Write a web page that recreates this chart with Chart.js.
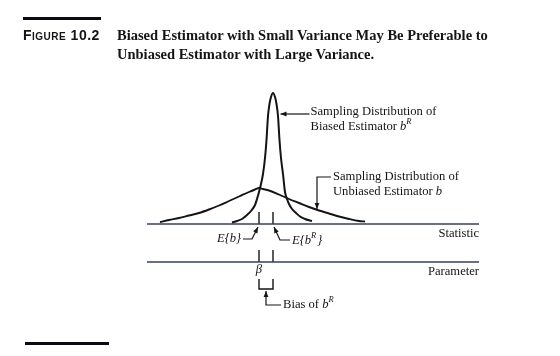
<!DOCTYPE html>
<html><head><meta charset="utf-8">
<script src="https://cdn.jsdelivr.net/npm/chart.js@4.4.1/dist/chart.umd.min.js"></script>
<style>
html,body{margin:0;padding:0;background:#fff;}
#wrap{position:relative;width:560px;height:356px;overflow:hidden;background:#fff;}
canvas{position:absolute;left:0;top:0;}
.bar{position:absolute;background:#0b0b16;height:3px;}
.fig{position:absolute;left:23px;top:27px;font-family:"Liberation Sans",Arial,sans-serif;font-weight:bold;font-size:14px;font-variant:small-caps;letter-spacing:0.5px;color:#141414;white-space:nowrap;}
.ttl{position:absolute;left:117px;top:26px;font-family:"Liberation Serif","Times New Roman",serif;font-weight:bold;font-size:14.5px;line-height:19px;color:#141414;white-space:nowrap;}
</style></head><body>
<div id="wrap">
<canvas id="c" width="560" height="356"></canvas>
<div class="bar" style="left:23px;top:17px;width:78px"></div>
<div class="fig">Figure 10.2</div>
<div class="ttl">Biased Estimator with Small Variance May Be Preferable to<br>Unbiased Estimator with Large Variance.</div>
<div class="bar" style="left:25px;top:342px;width:84px"></div>
</div>
<script>
// ---- data (x: statistic value, y: density) ----
const unbiasedX = [-9.9, -9, -8, -7, -6, -5, -4, -3, -2, -1, -0.4, 0, 0.4, 1, 2, 3, 4, 5, 6, 7, 8, 9, 10, 10.6];
const unbiasedY = [0.2, 0.4, 0.6, 0.85, 1.1, 1.45, 1.85, 2.3, 2.75, 3.2, 3.45, 3.6, 3.5, 3.35, 2.95, 2.5, 2.1, 1.7, 1.35, 1.05, 0.75, 0.5, 0.3, 0.25];
const biasedX = [-2.7, -2.2, -1.7, -1.2, -0.8, -0.4, -0.2, 0, 0.2, 0.4, 0.6, 0.75, 0.9, 1.05, 1.2, 1.4, 1.6, 1.75, 1.9, 2.05, 2.2, 2.4, 2.6, 2.8, 3.0, 3.3, 3.7, 4.1, 4.6, 5.0, 5.3];
const biasedY = [0.15, 0.3, 0.5, 0.9, 1.3, 1.9, 2.5, 3.2, 4.0, 5.0, 6.6, 8.4, 10.8, 12.0, 12.7, 13.1, 12.7, 12.0, 10.8, 8.4, 6.6, 5.0, 3.2, 2.5, 2.0, 1.5, 1.1, 0.75, 0.5, 0.37, 0.3];
const estimateNames = ['E{b}', 'E{b^R}'];
const estimateX = [0, 1.4];      // E{b} (= beta) and E{b^R}
const parameterX = [0];          // beta
const levelNames = ['Statistic', 'Parameter'];
const levelY = [0, -3.8];

const lineStart = -11.2, lineEnd = 22.0, tickLen = 1.2;
const ink = '#141414', axisInk = '#39415a';

const pts = (xs, ys) => xs.map((x, i) => ({x, y: ys[i]}));
const datasets = [
  {data: pts(unbiasedX, unbiasedY), borderColor: ink, borderWidth: 1.9, cubicInterpolationMode: 'monotone'},
  {data: pts(biasedX, biasedY), borderColor: ink, borderWidth: 2, cubicInterpolationMode: 'monotone'}
];
levelY.forEach(ly => datasets.push({data: [{x: lineStart, y: ly}, {x: lineEnd, y: ly}], borderColor: axisInk, borderWidth: 1.4}));
estimateX.forEach(ex => datasets.push({data: [{x: ex, y: levelY[0]}, {x: ex, y: levelY[0] + tickLen}], borderColor: ink, borderWidth: 1.4}));
estimateX.forEach(ex => datasets.push({data: [{x: ex, y: levelY[1]}, {x: ex, y: levelY[1] + tickLen}], borderColor: ink, borderWidth: 1.4}));

function seg(ctx, parts, x, y, align) {
  const base = 12.6;
  let w = 0;
  const fnt = p => (p.it ? 'italic ' : '') + (p.sup ? 8.5 : base) + 'px "Liberation Serif", "Times New Roman", serif';
  parts.forEach(p => { ctx.font = fnt(p); w += ctx.measureText(p.t).width; });
  let cx = align === 'right' ? x - w : align === 'center' ? x - w / 2 : x;
  ctx.textBaseline = 'middle'; ctx.textAlign = 'left';
  parts.forEach(p => { ctx.font = fnt(p); ctx.fillText(p.t, cx, p.sup ? y - 5 : y); cx += ctx.measureText(p.t).width + (p.sup ? 1 : 0); });
}
function arrow(ctx, pts) {
  ctx.beginPath(); ctx.moveTo(pts[0][0], pts[0][1]);
  for (let i = 1; i < pts.length; i++) ctx.lineTo(pts[i][0], pts[i][1]);
  ctx.stroke();
  const [x2, y2] = pts[pts.length - 1], [x1, y1] = pts[pts.length - 2];
  const a = Math.atan2(y2 - y1, x2 - x1), L = 6, W = 2.4;
  ctx.beginPath(); ctx.moveTo(x2, y2);
  ctx.lineTo(x2 - L * Math.cos(a) + W * Math.sin(a), y2 - L * Math.sin(a) - W * Math.cos(a));
  ctx.lineTo(x2 - L * Math.cos(a) - W * Math.sin(a), y2 - L * Math.sin(a) + W * Math.cos(a));
  ctx.closePath(); ctx.fill();
}

const annot = {
  id: 'annot',
  afterDatasetsDraw(chart) {
    const ctx = chart.ctx, X = v => chart.scales.x.getPixelForValue(v), Y = v => chart.scales.y.getPixelForValue(v);
    ctx.save();
    ctx.strokeStyle = ink; ctx.fillStyle = ink; ctx.lineWidth = 1.2;
    // biased label
    const bx = X(2.15), by = Y(11.0);
    arrow(ctx, [[bx + 29, by], [bx, by]]);
    seg(ctx, [{t: 'Sampling Distribution of'}], bx + 30, by - 2);
    seg(ctx, [{t: 'Biased Estimator '}, {t: 'b', it: 1}, {t: 'R', it: 1, sup: 1}], bx + 30, by + 13);
    // unbiased label
    const ux = X(5.8), uy = Y(1.5);
    arrow(ctx, [[ux + 14, uy - 32], [ux, uy - 32], [ux, uy]]);
    seg(ctx, [{t: 'Sampling Distribution of'}], ux + 16, uy - 32);
    seg(ctx, [{t: 'Unbiased Estimator '}, {t: 'b', it: 1}], ux + 16, uy - 17);
    // E{b}
    const e0 = X(estimateX[0]), e1 = X(estimateX[1]), s0 = Y(levelY[0]);
    arrow(ctx, [[e0 - 16, s0 + 15], [e0 - 7, s0 + 15], [e0 - 1, s0 + 3]]);
    seg(ctx, [{t: 'E{b}', it: 1}], e0 - 18, s0 + 15, 'right');
    arrow(ctx, [[e1 + 17, s0 + 16], [e1 + 7, s0 + 16], [e1 + 1, s0 + 3]]);
    seg(ctx, [{t: 'E{b', it: 1}, {t: 'R', it: 1, sup: 1}, {t: '}', it: 1}], e1 + 19, s0 + 17);
    // level names
    seg(ctx, [{t: levelNames[0]}], X(lineEnd), s0 + 10, 'right');
    const s1 = Y(levelY[1]);
    seg(ctx, [{t: levelNames[1]}], X(lineEnd), s1 + 10, 'right');
    // beta
    seg(ctx, [{t: 'β', it: 1}], X(parameterX[0]), s1 + 8, 'center');
    // bracket
    ctx.lineWidth = 1.4;
    ctx.beginPath(); ctx.moveTo(e0, s1 + 17); ctx.lineTo(e0, s1 + 27); ctx.lineTo(e1, s1 + 27); ctx.lineTo(e1, s1 + 17); ctx.stroke();
    ctx.lineWidth = 1.2;
    const mx = (e0 + e1) / 2;
    arrow(ctx, [[mx + 15, s1 + 43], [mx, s1 + 43], [mx, s1 + 29]]);
    seg(ctx, [{t: 'Bias of '}, {t: 'b', it: 1}, {t: 'R', it: 1, sup: 1}], mx + 17, s1 + 43);
    ctx.restore();
  }
};

new Chart(document.getElementById('c'), {
  type: 'line',
  data: {datasets},
  options: {
    responsive: false, animation: false, devicePixelRatio: 1,
    layout: {padding: 0},
    elements: {point: {radius: 0}, line: {fill: false}},
    plugins: {legend: {display: false}, tooltip: {enabled: false}},
    scales: {
      x: {type: 'linear', min: -25.9, max: 30.1, display: false},
      y: {type: 'linear', min: -13.2, max: 22.4, display: false}
    }
  },
  plugins: [annot]
});
</script>
</body></html>
